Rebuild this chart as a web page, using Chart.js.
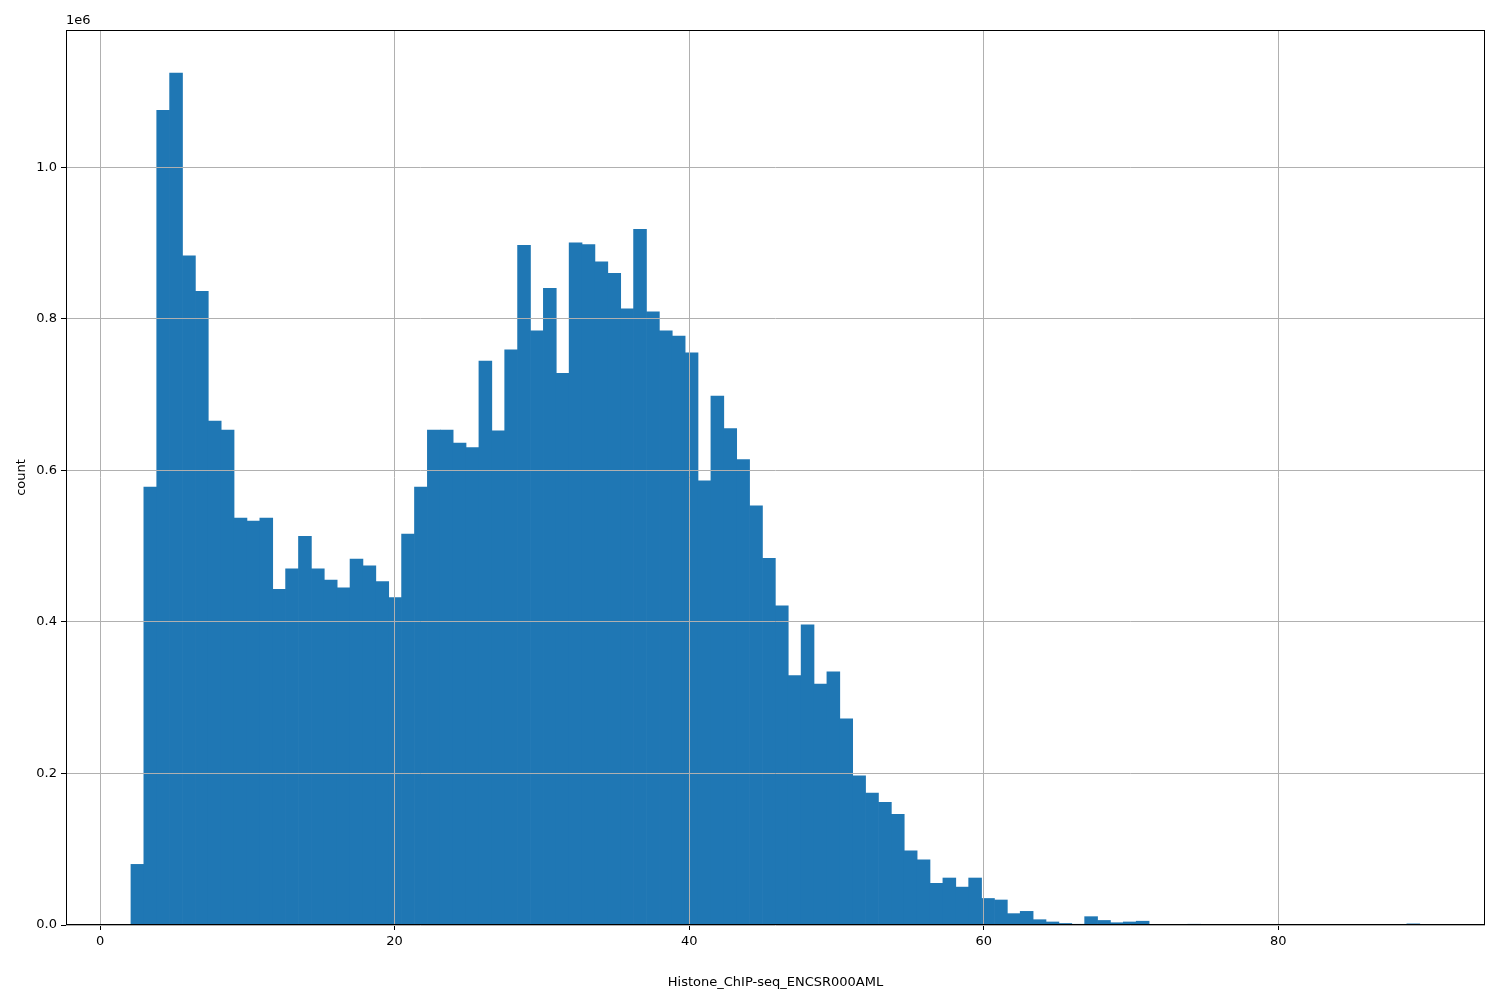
<!DOCTYPE html>
<html>
<head>
<meta charset="utf-8">
<script src="https://cdn.jsdelivr.net/npm/chart.js@4.4.0/dist/chart.umd.min.js"></script>
<style>
  html, body { margin: 0; padding: 0; background: #fff; }
  #wrap { width: 1500px; height: 1000px; }
</style>
</head>
<body>
<div id="wrap"><canvas id="c" width="1500" height="1000"></canvas></div>
<script>
// histogram: 100 bins from 2.1 to 89.6, counts in units of 1e6
const binStart = 2.1;
const binWidth = 0.875;
const counts = [
  0.080, 0.578, 1.075, 1.124, 0.883, 0.836, 0.665, 0.653, 0.537, 0.533,
  0.537, 0.443, 0.470, 0.513, 0.470, 0.455, 0.445, 0.483, 0.474, 0.453,
  0.432, 0.516, 0.578, 0.653, 0.653, 0.636, 0.630, 0.744, 0.652, 0.759,
  0.897, 0.784, 0.840, 0.728, 0.900, 0.898, 0.875, 0.860, 0.813, 0.918,
  0.809, 0.784, 0.777, 0.755, 0.586, 0.698, 0.655, 0.614, 0.553, 0.484,
  0.421, 0.329, 0.396, 0.318, 0.334, 0.272, 0.197, 0.174, 0.162, 0.146,
  0.098, 0.086, 0.055, 0.062, 0.050, 0.062, 0.035, 0.033, 0.015, 0.018,
  0.007, 0.004, 0.002, 0.001, 0.011, 0.006, 0.003, 0.004, 0.005, 0.0,
  0.0, 0.0, 0.001, 0.0, 0.0, 0.0, 0.0, 0.0, 0.0, 0.0,
  0.0, 0.0, 0.0, 0.0, 0.0, 0.0, 0.0, 0.0, 0.0, 0.0015
];
const xTicks = [0, 20, 40, 60, 80];
const yTicks = [0, 0.2, 0.4, 0.6, 0.8, 1.0];

const points = counts.map((v, i) => ({ x: binStart + binWidth * (i + 0.5), y: v }));

const offsetLabel = {
  id: 'offsetLabel',
  afterDraw(chart) {
    const { ctx, chartArea } = chart;
    ctx.save();
    ctx.font = '13px "DejaVu Sans"';
    ctx.fillStyle = '#000';
    ctx.textBaseline = 'bottom';
    ctx.fillText('1e6', chartArea.left, chartArea.top - 3);
    ctx.strokeStyle = '#000';
    ctx.lineWidth = 1;
    ctx.strokeRect(chartArea.left + 0.5, chartArea.top + 0.5,
      chartArea.right - chartArea.left - 1, chartArea.bottom - chartArea.top - 1);
    ctx.restore();
  }
};

new Chart(document.getElementById('c'), {
  type: 'bar',
  data: {
    datasets: [{
      data: points,
      backgroundColor: '#1f77b4',
      borderWidth: 0,
      barPercentage: 1.0,
      categoryPercentage: 1.0
    }]
  },
  options: {
    responsive: false,
    animation: false,
    layout: { padding: { left: 0, right: 15, top: 30, bottom: 0 } },
    plugins: { legend: { display: false }, tooltip: { enabled: false } },
    scales: {
      x: {
        type: 'linear',
        offset: false,
        min: -2.31,
        max: 94.03,
        afterBuildTicks: axis => { axis.ticks = xTicks.map(v => ({ value: v })); },
        grid: { offset: false, color: '#b0b0b0', lineWidth: 1, tickLength: 5, tickColor: '#000', z: 1 },
        border: { display: false },
        ticks: { color: '#000', font: { family: 'DejaVu Sans', size: 13 }, maxRotation: 0, padding: 4 },
        title: { display: true, text: 'Histone_ChIP-seq_ENCSR000AML', color: '#000',
                 font: { family: 'DejaVu Sans', size: 13 }, padding: { top: 24, bottom: 10 } },
        afterFit: axis => { axis.height = 75; }
      },
      y: {
        min: 0,
        max: 1.181,
        afterBuildTicks: axis => { axis.ticks = yTicks.map(v => ({ value: v })); },
        grid: { color: '#b0b0b0', lineWidth: 1, tickLength: 5, tickColor: '#000', z: 1 },
        border: { display: false },
        ticks: { color: '#000', font: { family: 'DejaVu Sans', size: 13 }, padding: 4,
                 callback: v => v.toFixed(1) },
        title: { display: true, text: 'count', color: '#000',
                 font: { family: 'DejaVu Sans', size: 13 }, padding: { top: 14, bottom: 6 } },
        afterFit: axis => { axis.width = 66; }
      }
    }
  },
  plugins: [offsetLabel]
});
</script>
</body>
</html>
